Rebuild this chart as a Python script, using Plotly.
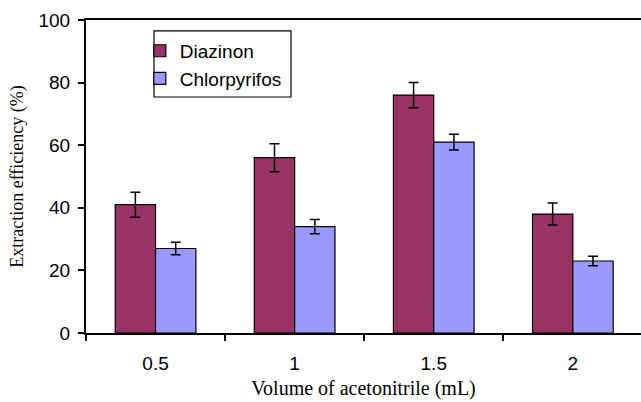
import plotly.graph_objects as go

categories = ["0.5", "1", "1.5", "2"]
diazinon = [41, 56, 76, 38]
diazinon_err = [4, 4.5, 4, 3.5]
chlorpyrifos = [27, 34, 61, 23]
chlorpyrifos_err = [2, 2.3, 2.5, 1.5]

fig = go.Figure()
fig.add_trace(go.Bar(
    x=categories, y=diazinon, name="Diazinon",
    marker=dict(color="#993366", line=dict(color="black", width=1.2)),
    error_y=dict(type="data", array=diazinon_err, color="black", thickness=1.5, width=5),
))
fig.add_trace(go.Bar(
    x=categories, y=chlorpyrifos, name="Chlorpyrifos",
    marker=dict(color="#9999FF", line=dict(color="black", width=1.2)),
    error_y=dict(type="data", array=chlorpyrifos_err, color="black", thickness=1.5, width=5),
))

# legend frame
fig.add_shape(type="rect", xref="paper", yref="paper",
              x0=0.1225, x1=0.3694, y0=0.754, y1=0.965,
              line=dict(color="black", width=1.2), fillcolor="rgba(0,0,0,0)", layer="above")

fig.update_layout(
    width=641, height=402,
    margin=dict(l=86, r=0, t=20, b=69),
    paper_bgcolor="white", plot_bgcolor="white",
    barmode="group", bargap=0.42, bargroupgap=0,
    font=dict(family="Liberation Sans, Arial", size=19, color="black"),
    showlegend=True,
    legend=dict(
        x=0.097, y=0.962, xanchor="left", yanchor="top",
        borderwidth=0, bgcolor="rgba(0,0,0,0)",
        font=dict(family="Liberation Sans, Arial", size=19),
    ),
    xaxis=dict(
        type="category", range=[-0.5, 3.49],
        showline=True, linecolor="black", linewidth=2, mirror=True,
        ticks="outside", tickson="boundaries", ticklen=6, tickcolor="black", tickwidth=1.5,
        ticklabelstandoff=12,
        showgrid=False, zeroline=False,
        tickfont=dict(family="Liberation Sans, Arial", size=19),
        title=dict(text="Volume of acetonitrile (mL)", standoff=8,
                   font=dict(family="Liberation Serif, Times New Roman", size=20)),
    ),
    yaxis=dict(
        range=[0, 100], dtick=20,
        showline=True, linecolor="black", linewidth=2,
        ticks="outside", ticklen=6, tickcolor="black", tickwidth=1.5,
        ticklabelstandoff=4,
        showgrid=False, zeroline=False,
        tickfont=dict(family="Liberation Sans, Arial", size=19),
        title=dict(text="Extraction efficiency (%)", standoff=10,
                   font=dict(family="Liberation Serif, Times New Roman", size=18)),
    ),
)

fig.write_html("out.html")
